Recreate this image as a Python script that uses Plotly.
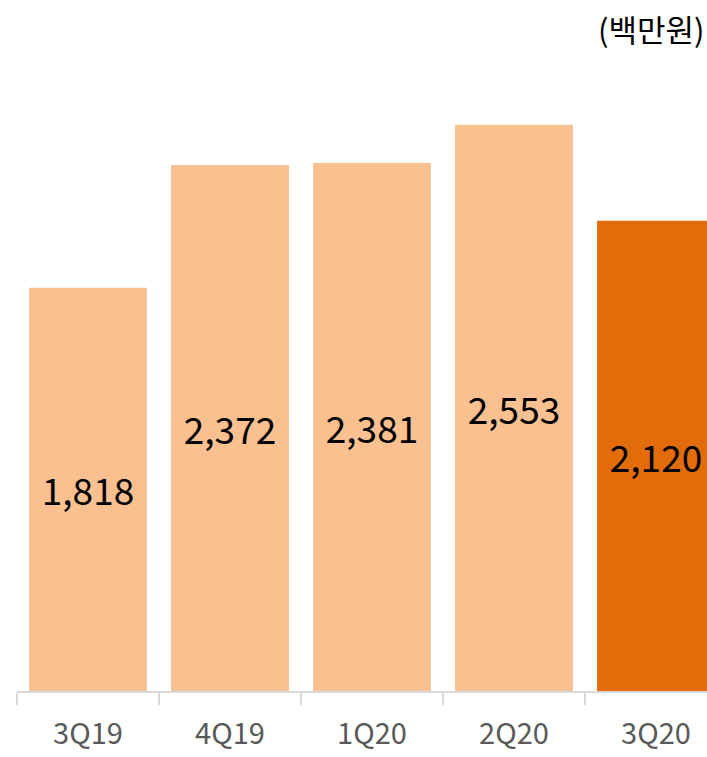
import plotly.graph_objects as go

categories = ["3Q19", "4Q19", "1Q20", "2Q20", "3Q20"]
values = [1818, 2372, 2381, 2553, 2120]
value_labels = ["1,818", "2,372", "2,381", "2,553", "2,120"]
bar_colors = ["#FAC090", "#FAC090", "#FAC090", "#FAC090", "#E36C0A"]
unit_label = "(백만원)"

FONT = "Noto Sans CJK KR"

fig = go.Figure(go.Bar(
    x=categories,
    y=values,
    text=value_labels,
    textposition="inside",
    insidetextanchor="middle",
    textangle=0,
    textfont=dict(family=FONT, size=37, color="#000000"),
    marker=dict(color=bar_colors, line=dict(width=0)),
    cliponaxis=True,
))

fig.update_layout(
    width=707,
    height=757,
    margin=dict(l=17, r=0, t=0, b=66),
    paper_bgcolor="white",
    plot_bgcolor="white",
    bargap=0.17,
    showlegend=False,
    uniformtext=dict(mode=False),
    xaxis=dict(
        range=[-0.5, 4.5 - 20 / 142],
        showgrid=False,
        showline=True,
        linecolor="#D9D9D9",
        linewidth=2,
        ticks="outside",
        tickson="boundaries",
        ticklen=12,
        tickwidth=2,
        tickcolor="#D9D9D9",
        tickfont=dict(family=FONT, size=29, color="#595959"),
        ticklabelstandoff=16,
        zeroline=False,
        fixedrange=True,
    ),
    yaxis=dict(
        range=[0, 3116],
        visible=False,
        showgrid=False,
        zeroline=False,
        fixedrange=True,
    ),
    annotations=[dict(
        text=unit_label,
        xref="paper", yref="paper",
        x=1.0, y=1.0,
        xanchor="right", yanchor="top",
        xshift=0,
        yshift=-4,
        showarrow=False,
        font=dict(family=FONT, size=31, color="#000000"),
    )],
)

fig.write_html(
    "out.html",
    config={"displayModeBar": False, "staticPlot": True},
    post_script="document.body.style.margin='0';",
)
